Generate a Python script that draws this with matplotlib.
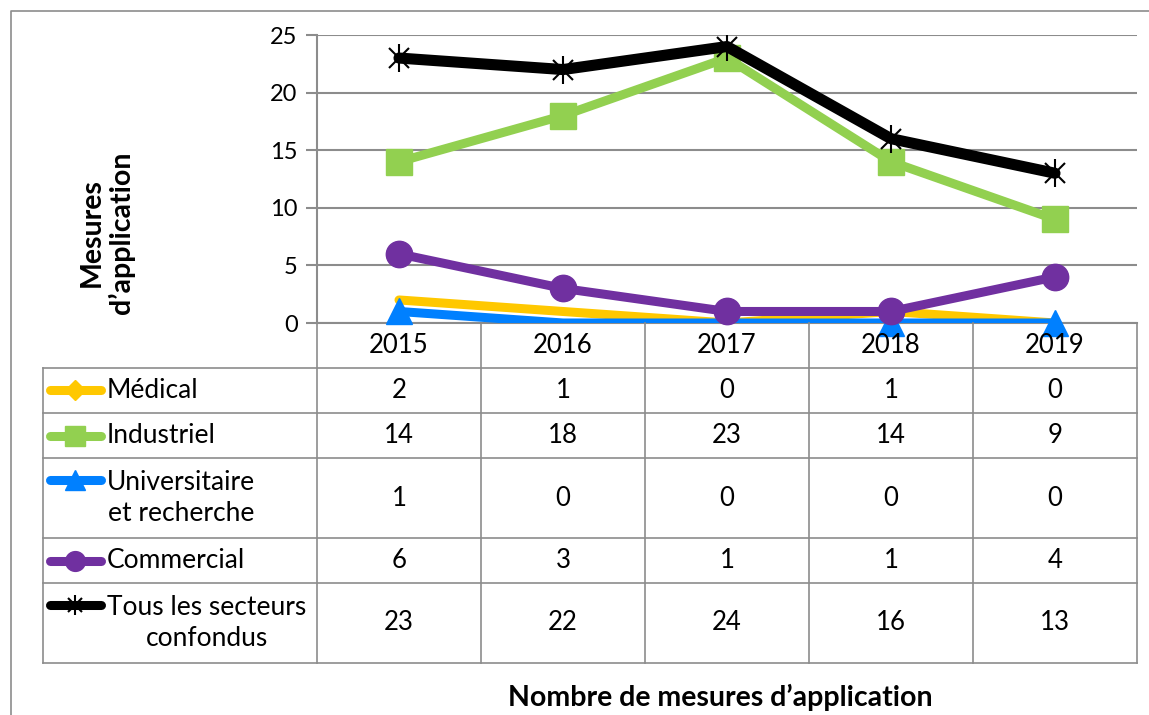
import numpy as np
import matplotlib.pyplot as plt
from matplotlib.lines import Line2D

plt.rcParams['font.family'] = ['Lato', 'DejaVu Sans']

annees = ['2015', '2016', '2017', '2018', '2019']
series = ['Médical', 'Industriel', 'Universitaire\net recherche', 'Commercial',
          'Tous les secteurs\nconfondus']
medical = [2, 1, 0, 1, 0]
industriel = [14, 18, 23, 14, 9]
universitaire = [1, 0, 0, 0, 0]
commercial = [6, 3, 1, 1, 4]
tous = [23, 22, 24, 16, 13]
valeurs = [medical, industriel, universitaire, commercial, tous]

couleurs = ['#FFC800', '#92D050', '#0080FF', '#7030A0', '#000000']
marqueurs = ['D', 's', '^', 'o', None]
tailles = [14, 19, 19, 19, 0]
epaisseurs = [6.5, 6.5, 6.5, 6.5, 8]
# points where the marker shows in the original chart
visibles = [[], None, [0, 3, 4], None, None]

W, H = 1149, 715
fig = plt.figure(figsize=(W / 100, H / 100), dpi=100)

def fx(x):
    return x / W

def fy(y):
    return 1 - y / H

gris = '#8c8c8c'

# plot area
x0, x1, y0, y1 = 317, 1137, 35, 323
ax = fig.add_axes([fx(x0), fy(y1), fx(x1) - fx(x0), fy(y0) - fy(y1)])
x = np.arange(len(annees))
for i in range(len(series)):
    ax.plot(x, valeurs[i], color=couleurs[i], lw=epaisseurs[i], zorder=3 + i,
            solid_joinstyle='round', solid_capstyle='round')
    if marqueurs[i]:
        ax.plot(x, valeurs[i], ls='none', color=couleurs[i], marker=marqueurs[i],
                ms=tailles[i], markevery=visibles[i], zorder=3 + i, clip_on=False)
# star marker for last series
ax.plot(x, tous, ls='none', marker='x', ms=14, mew=1.5, color='black', zorder=9)
ax.plot(x, tous, ls='none', marker='|', ms=20, mew=1.5, color='black', zorder=9)

ax.set_xlim(-0.5, len(annees) - 0.5)
ax.set_ylim(0, 25)
ax.set_yticks([0, 5, 10, 15, 20, 25])
ax.set_xticks([])
for s in ['top', 'right', 'bottom']:
    ax.spines[s].set_visible(False)
ax.spines['left'].set_color(gris)
ax.spines['left'].set_linewidth(1.5)
ax.yaxis.grid(True, color=gris, lw=1.5)
ax.set_axisbelow(True)
ax.tick_params(axis='y', length=8, width=1.5, color=gris, labelsize=17, pad=6)
ax.axhline(0, color=gris, lw=1.5, zorder=2, clip_on=False)
ax.set_facecolor('none')

# table
def hline(xa, xb, y):
    fig.add_artist(Line2D([fx(xa), fx(xb)], [fy(y), fy(y)], color=gris, lw=1.2))

def vline(xp, ya, yb):
    fig.add_artist(Line2D([fx(xp), fx(xp)], [fy(ya), fy(yb)], color=gris, lw=1.2))

colx = [317, 481, 645, 809, 973, 1137]
rows = [368, 413, 458, 538, 583, 663]
for xp in colx:
    vline(xp, y1, rows[-1])
vline(43, rows[0], rows[-1])
for yp in rows:
    hline(43, 1137, yp)

for j, a in enumerate(annees):
    fig.text(fx((colx[j] + colx[j + 1]) / 2), fy((y1 + rows[0]) / 2), a,
             ha='center', va='center', fontsize=18.5)

for i, nom in enumerate(series):
    ya, yb = rows[i], rows[i + 1]
    yc = (ya + yb) / 2
    for j in range(len(annees)):
        fig.text(fx((colx[j] + colx[j + 1]) / 2), fy(yc), str(valeurs[i][j]),
                 ha='center', va='center', fontsize=18.5)
    fig.text(fx(107), fy(yc), nom, ha='left', va='center', fontsize=19,
             multialignment='center', linespacing=1.3)
    yk = yc if '\n' not in nom else yc - 18.5
    fig.add_artist(Line2D([fx(50), fx(101)], [fy(yk), fy(yk)], color=couleurs[i],
                          lw=6.5, solid_capstyle='round'))
    if marqueurs[i]:
        fig.add_artist(Line2D([fx(75)], [fy(yk)], color=couleurs[i],
                              marker=marqueurs[i], ms=tailles[i] * 0.75))
    else:
        fig.add_artist(Line2D([fx(75)], [fy(yk)], color='black', marker='x', ms=10, mew=1.5))
        fig.add_artist(Line2D([fx(75)], [fy(yk)], color='black', marker='|', ms=14, mew=1.5))

# titles
fig.text(fx(107), fy(233), 'Mesures\nd’application', rotation=90, ha='center',
         va='center', fontsize=20.5, fontweight='bold', linespacing=1.15)
fig.text(fx(720), fy(697), 'Nombre de mesures d’application', ha='center',
         va='center', fontsize=20.5, fontweight='bold')

# chart border
fig.add_artist(Line2D([fx(11), fx(11), fx(1160)], [fy(720), fy(11), fy(11)],
                      color=gris, lw=1.2))

fig.savefig('out.png', dpi=100)
